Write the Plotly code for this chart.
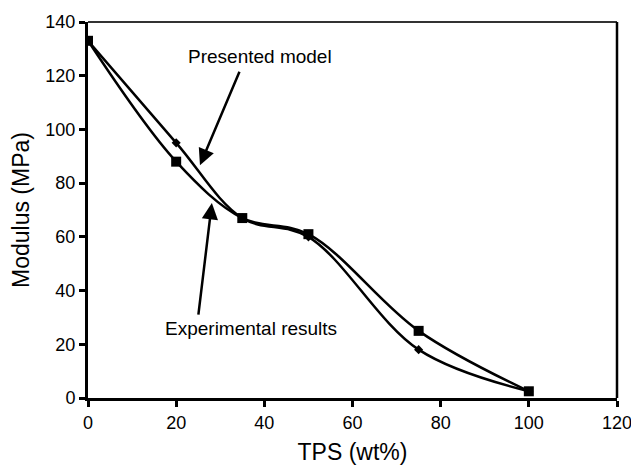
import plotly.graph_objects as go

tps = [0, 20, 35, 50, 75, 100]
experimental = [133, 88, 67, 61, 25, 2.5]
model = [133, 95, 67, 60, 18, 2.5]

x_ticks = [0, 20, 40, 60, 80, 100, 120]
y_ticks = [0, 20, 40, 60, 80, 100, 120, 140]

FONT = "Arial, Liberation Sans, sans-serif"

fig = go.Figure()
fig.add_trace(go.Scatter(
    x=tps, y=model, mode="lines+markers", name="Presented model",
    line=dict(color="black", width=2.5, shape="spline", smoothing=1),
    marker=dict(symbol="diamond", size=7, color="black"),
))
fig.add_trace(go.Scatter(
    x=tps, y=experimental, mode="lines+markers", name="Experimental results",
    line=dict(color="black", width=2.5, shape="spline", smoothing=1),
    marker=dict(symbol="square", size=10, color="black"),
))

# frame top & right
fig.add_shape(type="line", xref="paper", yref="paper", x0=0, x1=1, y0=1, y1=1,
              line=dict(color="#333", width=2))
fig.add_shape(type="line", xref="paper", yref="paper", x0=1, x1=1, y0=0, y1=1,
              line=dict(color="black", width=2.5))

fig.add_annotation(x=25.4, y=86.7, ax=34.5, ay=122, xref="x", yref="y",
                   axref="x", ayref="y", text="", showarrow=True,
                   arrowhead=2, arrowsize=1.3, arrowwidth=2.5, arrowcolor="black")
fig.add_annotation(x=28.1, y=72.6, ax=25, ay=30.5, xref="x", yref="y",
                   axref="x", ayref="y", text="", showarrow=True,
                   arrowhead=2, arrowsize=1.3, arrowwidth=2.5, arrowcolor="black")
fig.add_annotation(x=39.0, y=127, xref="x", yref="y", text="Presented model",
                   showarrow=False, font=dict(family=FONT, size=19, color="black"))
fig.add_annotation(x=37.0, y=25.7, xref="x", yref="y", text="Experimental results",
                   showarrow=False, font=dict(family=FONT, size=19, color="black"))

fig.update_layout(
    width=631, height=465,
    margin=dict(l=88, r=14, t=22, b=67),
    paper_bgcolor="white", plot_bgcolor="white",
    showlegend=False,
    font=dict(family=FONT, color="black"),
)
fig.update_xaxes(
    range=[0, 120], tickvals=x_ticks, ticktext=[str(v) for v in x_ticks],
    showgrid=False, zeroline=False, showline=True, linecolor="black", linewidth=3,
    ticks="outside", ticklen=6, tickwidth=3, tickcolor="black",
    tickfont=dict(size=18, family=FONT), ticklabeloverflow="allow",
    automargin=False,
    title=dict(text="TPS (wt%)", font=dict(size=23, family=FONT), standoff=14),
)
fig.update_yaxes(
    range=[0, 140], tickvals=y_ticks, ticktext=[str(v) for v in y_ticks],
    showgrid=False, zeroline=False, showline=True, linecolor="black", linewidth=3,
    ticks="outside", ticklen=6, tickwidth=3, tickcolor="black",
    tickfont=dict(size=18, family=FONT), ticklabeloverflow="allow",
    automargin=False,
    title=dict(text="Modulus (MPa)", font=dict(size=23, family=FONT), standoff=10),
)

fig.write_html("out.html")
